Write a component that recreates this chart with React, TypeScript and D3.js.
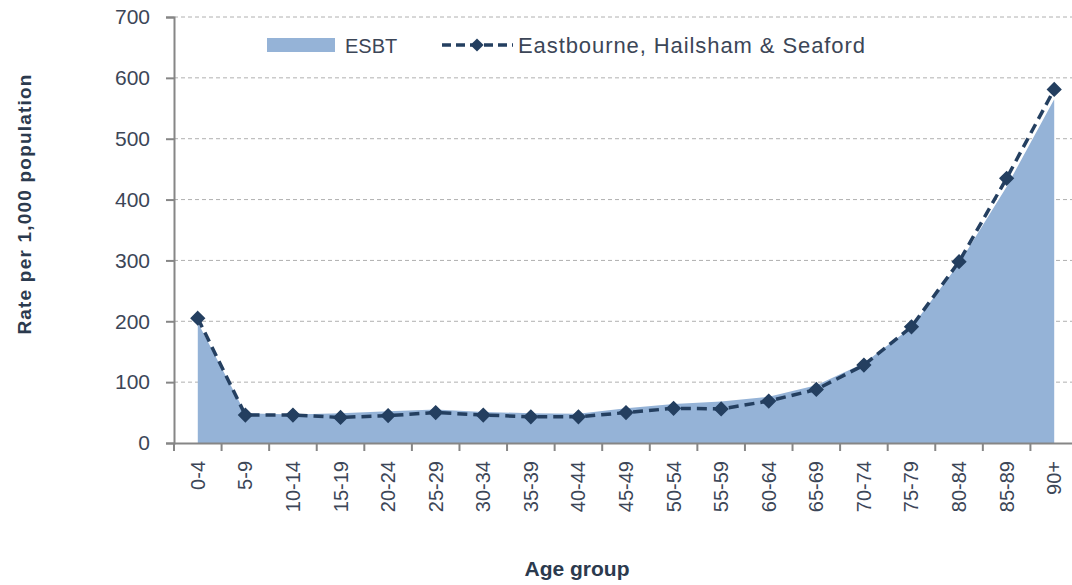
import React, { useEffect, useRef } from 'react';
import * as d3 from 'd3';

const ageGroups = ['0-4', '5-9', '10-14', '15-19', '20-24', '25-29', '30-34', '35-39', '40-44', '45-49',
  '50-54', '55-59', '60-64', '65-69', '70-74', '75-79', '80-84', '85-89', '90+'];
const esbtValues = [198, 49, 47, 49, 52, 55, 51, 49, 48, 57, 64, 68, 76, 95, 131, 190, 295, 421, 565];
const ehsValues = [205, 46, 46, 42, 45, 50, 46, 43, 43, 50, 57, 56, 69, 88, 128, 191, 298, 435, 581];
const yTicks = [0, 100, 200, 300, 400, 500, 600, 700];
const seriesNames = ['ESBT', 'Eastbourne, Hailsham & Seaford'];

const FONT = '"Liberation Sans", Arial, sans-serif';
const TEXT = '#3c4657';
const FILL = '#95b3d7';
const LINE = '#243f60';

const App = () => {
  const svgRef = useRef<SVGSVGElement>(null);

  useEffect(() => {
    const width = 1072;
    const height = 585;
    const margin = { top: 17, left: 174, bottom: 443 };
    const plotWidth = 904;

    const svg = d3.select(svgRef.current);
    svg.selectAll('*').remove();
    svg.attr('width', width).attr('height', height);

    const x = d3.scaleBand<string>().domain(ageGroups).range([margin.left, margin.left + plotWidth]);
    const cx = (d: string) => (x(d) as number) + x.bandwidth() / 2;
    const y = d3.scaleLinear().domain([0, 700]).range([margin.bottom, margin.top]);

    // gridlines
    svg.append('g')
      .selectAll('line')
      .data(yTicks.slice(1))
      .join('line')
      .attr('x1', margin.left)
      .attr('x2', margin.left + plotWidth)
      .attr('y1', d => y(d))
      .attr('y2', d => y(d))
      .attr('stroke', '#b0b0b0')
      .attr('stroke-width', 1)
      .attr('stroke-dasharray', '4,3');

    // ESBT area
    const area = d3.area<number>()
      .x((_, i) => cx(ageGroups[i]))
      .y0(y(0))
      .y1(d => y(d));
    svg.append('path')
      .datum(esbtValues)
      .attr('fill', FILL)
      .attr('d', area);

    // y axis
    const yAxis = svg.append('g')
      .attr('transform', `translate(${margin.left},0)`)
      .call(d3.axisLeft(y).tickValues(yTicks).tickSize(8).tickPadding(16));
    yAxis.select('.domain').attr('stroke', '#868686').attr('stroke-width', 2);
    yAxis.selectAll('.tick line').attr('stroke', '#868686').attr('stroke-width', 2);
    yAxis.selectAll('.tick text')
      .attr('fill', TEXT)
      .style('font-family', FONT)
      .style('font-size', '21px');

    // x axis
    const xAxis = svg.append('g')
      .attr('transform', `translate(0,${margin.bottom})`)
      .call(d3.axisBottom(x).tickSize(0).tickPadding(0));
    xAxis.select('.domain').attr('stroke', '#868686').attr('stroke-width', 2);
    xAxis.selectAll('.tick text')
      .attr('fill', TEXT)
      .attr('transform', 'rotate(-90)')
      .attr('text-anchor', 'end')
      .attr('x', -18)
      .attr('y', 0)
      .attr('dy', '0.35em')
      .style('font-family', FONT)
      .style('font-size', '20px');
    xAxis.selectAll('.boundary')
      .data(ageGroups)
      .join('line')
      .attr('class', 'boundary')
      .attr('x1', d => x(d) as number)
      .attr('x2', d => x(d) as number)
      .attr('y1', 0)
      .attr('y2', 8)
      .attr('stroke', '#868686')
      .attr('stroke-width', 2);

    // EHS dashed line with diamonds
    const line = d3.line<number>()
      .x((_, i) => cx(ageGroups[i]))
      .y(d => y(d));
    svg.append('path')
      .datum(ehsValues)
      .attr('fill', 'none')
      .attr('stroke', LINE)
      .attr('stroke-width', 3.5)
      .attr('stroke-dasharray', '10,6')
      .attr('d', line);

    const diamond = d3.symbol().type(d3.symbolDiamond2).size(110);
    svg.append('g')
      .selectAll('path')
      .data(ehsValues)
      .join('path')
      .attr('transform', (d, i) => `translate(${cx(ageGroups[i])},${y(d)})`)
      .attr('d', diamond)
      .attr('fill', LINE)
      .attr('stroke', LINE)
      .attr('stroke-width', 1.5);

    // legend
    const legend = svg.append('g');
    legend.append('rect')
      .attr('x', 267).attr('y', 38).attr('width', 68).attr('height', 14)
      .attr('fill', FILL);
    legend.append('text')
      .attr('x', 345).attr('y', 53)
      .attr('fill', TEXT)
      .style('font-family', FONT)
      .style('font-size', '20px')
      .text(seriesNames[0]);
    legend.append('line')
      .attr('x1', 442).attr('x2', 513).attr('y1', 45).attr('y2', 45)
      .attr('stroke', LINE)
      .attr('stroke-width', 3.5)
      .attr('stroke-dasharray', '9,5');
    legend.append('path')
      .attr('transform', 'translate(477,45)')
      .attr('d', diamond)
      .attr('fill', LINE);
    legend.append('text')
      .attr('x', 518).attr('y', 53)
      .attr('fill', TEXT)
      .attr('textLength', 347)
      .attr('lengthAdjust', 'spacing')
      .style('font-family', FONT)
      .style('font-size', '22px')
      .text(seriesNames[1]);

    // axis titles
    svg.append('text')
      .attr('transform', 'translate(31,204) rotate(-90)')
      .attr('text-anchor', 'middle')
      .attr('fill', '#2b3a4e')
      .style('font-family', FONT)
      .style('font-size', '19px')
      .style('font-weight', 'bold')
      .style('letter-spacing', '1.2px')
      .text('Rate per 1,000 population');

    svg.append('text')
      .attr('x', 577)
      .attr('y', 576)
      .attr('text-anchor', 'middle')
      .attr('fill', '#2b3a4e')
      .style('font-family', FONT)
      .style('font-size', '21px')
      .style('font-weight', 'bold')
      .text('Age group');
  }, []);

  return <svg ref={svgRef} style={{ position: 'absolute', left: 0, top: 0 }} />;
};

export default App;
